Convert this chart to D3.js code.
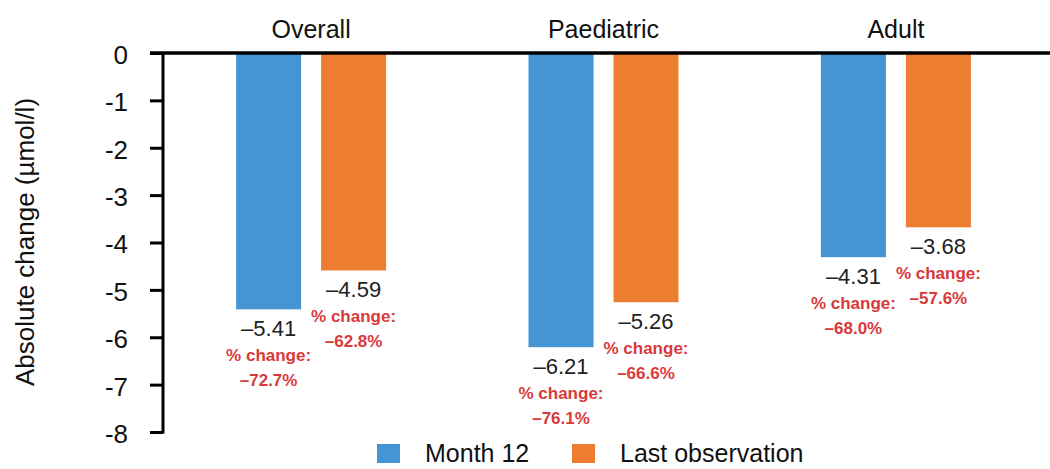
<!DOCTYPE html>
<html>
<head>
<meta charset="utf-8">
<script src="https://cdn.jsdelivr.net/npm/d3@7"></script>
<style>
    body { margin: 0; background: #fff; }
    svg { font-family: "Liberation Sans", Arial, sans-serif; }
</style>
</head>
<body>
<div id="chart-area"></div>
<script>
// data
let groups = ["Overall", "Paediatric", "Adult"];
let series = ["Month 12", "Last observation"];
let month12 = [-5.41, -6.21, -4.31];
let lastObs = [-4.59, -5.26, -3.68];
let month12Pct = ["–72.7%", "–76.1%", "–68.0%"];
let lastObsPct = ["–62.8%", "–66.6%", "–57.6%"];
let yTicks = [0, -1, -2, -3, -4, -5, -6, -7, -8];
let colors = ["#4594d3", "#ed7d31"];

let width = 1050, height = 469;

let svg = d3.select("#chart-area").append("svg")
    .attr("width", width)
    .attr("height", height);

// Scales
let x0 = d3.scaleBand()
    .domain(groups)
    .range([163, 1044])
    .paddingInner(0.487)
    .paddingOuter(0.25);

let x1 = d3.scaleBand()
    .domain(series)
    .range([0, x0.bandwidth()])
    .paddingInner(0.235);

let y = d3.scaleLinear()
    .domain([-8, 0])
    .range([432, 53]);

let color = d3.scaleOrdinal().domain(series).range(colors);

// build rows for the bars
let rows = [];
groups.forEach((g, i) => {
    rows.push({group: g, series: series[0], value: month12[i], pct: month12Pct[i]});
    rows.push({group: g, series: series[1], value: lastObs[i], pct: lastObsPct[i]});
});

svg.selectAll(".bar")
    .data(rows)
    .enter().append("rect")
    .attr("class", "bar")
    .attr("x", d => x0(d.group) + x1(d.series))
    .attr("y", y(0))
    .attr("width", x1.bandwidth())
    .attr("height", d => y(d.value) - y(0))
    .attr("fill", d => color(d.series));

// value labels
let lab = svg.selectAll(".lab")
    .data(rows)
    .enter().append("g")
    .attr("class", "lab")
    .attr("transform", d => "translate(" + (x0(d.group) + x1(d.series) + x1.bandwidth() / 2) + "," + y(d.value) + ")");

lab.append("text")
    .attr("y", 27)
    .attr("text-anchor", "middle")
    .attr("font-size", 22)
    .attr("fill", "#222")
    .text(d => "–" + Math.abs(d.value).toFixed(2));

lab.append("text")
    .attr("y", 52)
    .attr("text-anchor", "middle")
    .attr("font-size", 17)
    .attr("font-weight", "bold")
    .attr("fill", "#d9393a")
    .text("% change:");

lab.append("text")
    .attr("y", 77)
    .attr("text-anchor", "middle")
    .attr("font-size", 17)
    .attr("font-weight", "bold")
    .attr("fill", "#d9393a")
    .text(d => d.pct);

// y axis
let yAxis = d3.axisLeft(y)
    .tickValues(yTicks)
    .tickFormat(d => d === 0 ? "0" : "-" + Math.abs(d))
    .tickSize(13)
    .tickPadding(22);

let ya = svg.append("g")
    .attr("class", "y-axis")
    .attr("transform", "translate(163,0)")
    .call(yAxis);

ya.select(".domain").remove();
ya.selectAll(".tick line").attr("stroke", "#000").attr("stroke-width", 3);
ya.selectAll(".tick text")
    .attr("font-size", 26)
    .attr("dy", "0.4em")
    .attr("fill", "#111")
    .attr("font-family", "Liberation Sans, Arial, sans-serif");

svg.append("line")
    .attr("x1", 163).attr("x2", 163)
    .attr("y1", y(0)).attr("y2", y(-8) + 1.5)
    .attr("stroke", "#000")
    .attr("stroke-width", 3);

// zero line across the top
svg.append("line")
    .attr("x1", 150).attr("x2", width)
    .attr("y1", y(0)).attr("y2", y(0))
    .attr("stroke", "#000")
    .attr("stroke-width", 3.5);

// group titles
svg.selectAll(".gtitle")
    .data(groups)
    .enter().append("text")
    .attr("class", "gtitle")
    .attr("x", d => x0(d) + x0.bandwidth() / 2)
    .attr("y", 38)
    .attr("text-anchor", "middle")
    .attr("font-size", 25)
    .attr("fill", "#111")
    .text(d => d);

// y title
svg.append("text")
    .attr("transform", "translate(34,242) rotate(-90)")
    .attr("text-anchor", "middle")
    .attr("font-size", 26)
    .attr("fill", "#111")
    .text("Absolute change (µmol/l)");

// legend
let legendX = [377, 572];
let legend = svg.selectAll(".legend")
    .data(series)
    .enter().append("g")
    .attr("class", "legend")
    .attr("transform", (d, i) => "translate(" + legendX[i] + ",444)");

legend.append("rect")
    .attr("width", 23)
    .attr("height", 19)
    .attr("fill", d => color(d));

legend.append("text")
    .attr("x", 48)
    .attr("y", 18)
    .attr("font-size", 25)
    .attr("fill", "#111")
    .text(d => d);
</script>
</body>
</html>
